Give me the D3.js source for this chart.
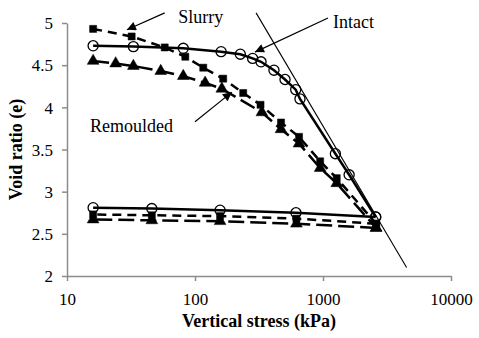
<!DOCTYPE html>
<html>
<head>
<meta charset="utf-8">
<script src="https://cdn.jsdelivr.net/npm/d3@7/dist/d3.min.js"></script>
<style>
  body { margin: 0; background: #fff; }
</style>
</head>
<body>
<div id="chart"></div>
<script>
// vertical stress (kPa), void ratio e
var intactLoad = [[16, 4.73], [33, 4.72], [81, 4.70], [160, 4.66], [226, 4.63], [282, 4.58], [328, 4.54],
    [414, 4.44], [505, 4.33], [612, 4.21], [661, 4.10], [1250, 3.45], [1600, 3.20], [2580, 2.70]];
var intactUnload = [[2580, 2.70], [615, 2.75], [157, 2.78], [46, 2.80], [16, 2.81]];

var slurryLoad = [[16, 4.93], [32, 4.84], [58, 4.71], [84, 4.60], [116, 4.47], [166, 4.34], [238, 4.17],
    [325, 4.03], [470, 3.82], [650, 3.65], [950, 3.36], [1280, 3.16], [2600, 2.62]];
var slurryUnload = [[2600, 2.62], [620, 2.68], [157, 2.71], [46, 2.72], [16, 2.73]];

var remouldedLoad = [[16, 4.55], [24, 4.52], [33, 4.49], [54, 4.43], [81, 4.37], [120, 4.29], [162, 4.22],
    [333, 3.94], [470, 3.74], [650, 3.57], [950, 3.28], [1280, 3.10], [2600, 2.57]];
var remouldedUnload = [[2600, 2.57], [620, 2.62], [157, 2.65], [46, 2.66], [16, 2.67]];

var thinLine = [[300, 5.12], [4500, 2.10]];

var xTicks = [10, 100, 1000, 10000];
var yTicks = [2, 2.5, 3, 3.5, 4, 4.5, 5];

// label, text anchor (stress, e), arrow from, arrow to
var labels = [
    ["Slurry", [74, 5.0], [58, 5.12], [29.4, 4.92]],
    ["Intact", [1197, 4.94], [1094, 5.06], [294, 4.655]],
    ["Remoulded", [15.1, 3.71], [100, 3.83], [194, 4.18]]
];

var font = "Liberation Serif";

var svg = d3.select("#chart").append("svg")
    .attr("width", 479)
    .attr("height", 338)
    .attr("font-family", font);

var box = {xmin: 67, xmax: 451, ymin: 23, ymax: 276};

var x = d3.scaleLog().domain([10, 10000]).range([box.xmin, box.xmax]);
var y = d3.scaleLinear().domain([2, 5]).range([box.ymax, box.ymin]);

var axisColor = "#8c8c8c";

//axes
var xAxis = svg.append("g")
    .attr("transform", "translate(0," + box.ymax + ")")
    .call(d3.axisBottom(x).tickValues(xTicks).tickFormat(d3.format("d")).tickSize(5).tickSizeOuter(0));
var yAxis = svg.append("g")
    .attr("transform", "translate(" + box.xmin + ",0)")
    .call(d3.axisLeft(y).tickValues(yTicks).tickFormat(function(d) { return d; }).tickSize(5).tickSizeOuter(0));

[xAxis, yAxis].forEach(function(a) {
    a.attr("font-family", null).attr("font-size", null);
    a.select(".domain").attr("stroke", axisColor).attr("stroke-width", 1.5);
    a.selectAll(".tick line").attr("stroke", axisColor).attr("stroke-width", 1.5);
    a.selectAll(".tick text")
        .attr("fill", "#000")
        .attr("font-family", font)
        .attr("font-size", 17);
});
xAxis.selectAll(".tick text").attr("y", 17).attr("dy", "0.71em");
yAxis.selectAll(".tick text").attr("x", -14).attr("dy", "0.34em");

// axis titles
svg.append("text")
    .attr("x", (box.xmin + box.xmax) / 2)
    .attr("y", 327)
    .attr("text-anchor", "middle")
    .attr("font-family", font)
    .attr("font-size", 18)
    .attr("font-weight", "bold")
    .text("Vertical stress (kPa)");

svg.append("text")
    .attr("transform", "translate(22," + (box.ymin + box.ymax) / 2 + ") rotate(-90)")
    .attr("text-anchor", "middle")
    .attr("font-family", font)
    .attr("font-size", 18)
    .attr("font-weight", "bold")
    .text("Void ratio (e)");

var line = d3.line()
    .x(function(d) { return x(d[0]); })
    .y(function(d) { return y(d[1]); });

svg.append("path")
    .datum(thinLine)
    .attr("d", line)
    .attr("fill", "none")
    .attr("stroke", "#000")
    .attr("stroke-width", 1.1);

var series = [
    {data: intactLoad, dash: null, marker: "circle"},
    {data: intactUnload, dash: null, marker: "circle"},
    {data: slurryLoad, dash: "9,6", marker: "square"},
    {data: slurryUnload, dash: "9,6", marker: "square"},
    {data: remouldedLoad, dash: "16,6", marker: "triangle"},
    {data: remouldedUnload, dash: "16,6", marker: "triangle"}
];

series.forEach(function(s) {
    svg.append("path")
        .datum(s.data)
        .attr("d", line)
        .attr("fill", "none")
        .attr("stroke", "#000")
        .attr("stroke-width", 2.5)
        .attr("stroke-dasharray", s.dash);
});

var symbols = {
    circle: d3.symbol().type(d3.symbolCircle).size(80),
    square: d3.symbol().type(d3.symbolSquare).size(50),
    triangle: d3.symbol().type(d3.symbolTriangle).size(60)
};

series.forEach(function(s) {
    svg.selectAll(null)
        .data(s.data)
        .enter().append("path")
            .attr("transform", function(d) { return "translate(" + x(d[0]) + "," + y(d[1]) + ")"; })
            .attr("d", symbols[s.marker])
            .attr("fill", s.marker == "circle" ? "none" : "#000")
            .attr("stroke", "#000")
            .attr("stroke-width", s.marker == "circle" ? 1.3 : 0.5);
});

// arrows + labels
svg.append("defs").append("marker")
    .attr("id", "head")
    .attr("viewBox", "0 0 10 10")
    .attr("refX", 10)
    .attr("refY", 5)
    .attr("markerUnits", "userSpaceOnUse")
    .attr("markerWidth", 11)
    .attr("markerHeight", 9)
    .attr("orient", "auto")
    .append("path")
        .attr("d", "M0,0L10,5L0,10Z")
        .attr("fill", "#000");

labels.forEach(function(l) {
    svg.append("text")
        .attr("x", x(l[1][0]))
        .attr("y", y(l[1][1]))
        .attr("font-family", font)
        .attr("font-size", 18)
        .text(l[0]);
    svg.append("line")
        .attr("x1", x(l[2][0]))
        .attr("y1", y(l[2][1]))
        .attr("x2", x(l[3][0]))
        .attr("y2", y(l[3][1]))
        .attr("stroke", "#000")
        .attr("stroke-width", 1.2)
        .attr("marker-end", "url(#head)");
});
</script>
</body>
</html>
